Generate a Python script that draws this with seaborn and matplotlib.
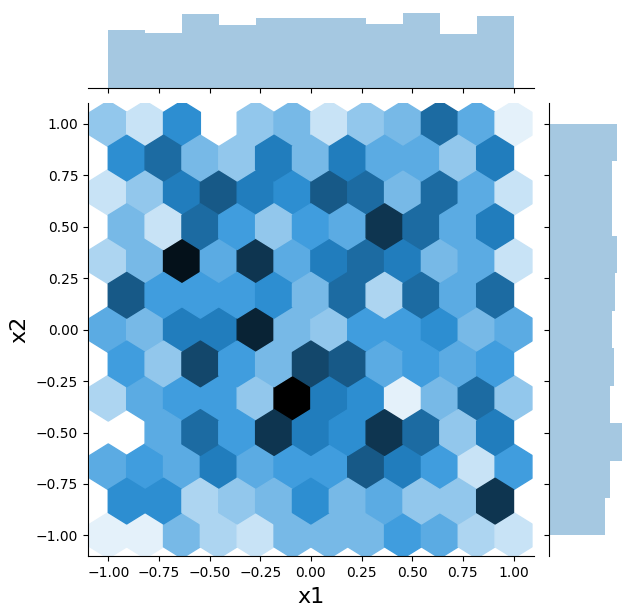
import numpy as np
import matplotlib
matplotlib.use("Agg")
import matplotlib.pyplot as plt
import seaborn as sns
from seaborn.utils import set_hls_values

# Hexagon counts, top row to bottom row. Long rows have 12 cells, offset rows 11.
row_01 = [4, 2, 8, 0, 4, 5, 2, 4, 5, 10, 6, 1]
row_02 = [8, 10, 5, 4, 9, 5, 9, 6, 6, 4, 9]
row_03 = [2, 4, 9, 11, 9, 8, 11, 10, 5, 10, 6, 2]
row_04 = [5, 2, 10, 7, 4, 7, 6, 13, 10, 6, 9]
row_05 = [3, 5, 15, 6, 13, 6, 9, 10, 9, 5, 6, 2]
row_06 = [11, 7, 7, 7, 8, 5, 10, 3, 10, 6, 10]
row_07 = [6, 5, 9, 9, 14, 5, 4, 7, 7, 8, 5, 6]
row_08 = [7, 4, 12, 7, 5, 12, 11, 6, 7, 6, 7]
row_09 = [3, 6, 7, 7, 4, 16, 9, 8, 1, 5, 10, 4]
row_10 = [0, 6, 10, 7, 13, 9, 8, 13, 10, 4, 9]
row_11 = [6, 7, 6, 9, 6, 7, 7, 11, 9, 7, 2, 7]
row_12 = [8, 8, 3, 4, 5, 8, 5, 6, 4, 4, 13]
row_13 = [1, 1, 5, 3, 2, 5, 5, 5, 7, 6, 3, 2]
hex_rows = [row_01, row_02, row_03, row_04, row_05, row_06, row_07,
            row_08, row_09, row_10, row_11, row_12, row_13]

# Marginal histogram counts, 11 bins from -1 to 1
x1_hist = [80, 76, 103, 87, 98, 97, 98, 89, 104, 75, 100]
x2_hist = [80, 86, 104, 87, 92, 90, 94, 97, 89, 89, 97]

n_bins = 11
row_y = np.linspace(1, -1, len(hex_rows))
long_x = np.linspace(-1, 1, n_bins + 1)
short_x = (long_x[:-1] + long_x[1:]) / 2

xs, ys = [], []
for y_val, row in zip(row_y, hex_rows):
    centers = long_x if len(row) == n_bins + 1 else short_x
    xs.append(np.repeat(centers, row))
    ys.append(np.full(int(np.sum(row)), y_val))
xs = np.concatenate(xs)
ys = np.concatenate(ys)

g = sns.JointGrid(height=6, ratio=5, space=0.2)
g.figure.set_size_inches(6.35, 6.15)
g.figure.subplots_adjust(left=88 / 635, right=626 / 635,
                         top=1 - 9.5 / 615, bottom=1 - 556 / 615)

colors = [set_hls_values("C0", l=l) for l in np.linspace(1, 0, 12)]
cmap = sns.blend_palette(colors, as_cmap=True)
g.ax_joint.hexbin(xs, ys, gridsize=n_bins, extent=(-1, 1, -1, 1), cmap=cmap,
                  mincnt=1, vmin=0, vmax=16)

sns.histplot(x=short_x, weights=x1_hist, bins=n_bins, binrange=(-1, 1),
             ax=g.ax_marg_x, color="C0", alpha=0.4, linewidth=0)
bin_y = short_x
sns.histplot(y=bin_y, weights=x2_hist, bins=n_bins, binrange=(-1, 1),
             ax=g.ax_marg_y, color="C0", alpha=0.4, linewidth=0)

g.ax_joint.set_xlim(-1.1, 1.1)
g.ax_joint.set_ylim(-1.1, 1.1)
g.ax_joint.set_xticks(np.arange(-1, 1.01, 0.25))
g.ax_joint.set_yticks(np.arange(-1, 1.01, 0.25))
g.ax_joint.set_xlabel("x1", fontsize=16, labelpad=5.5)
g.ax_joint.set_ylabel("x2", fontsize=16, labelpad=4.8)
g.ax_marg_x.set_ylabel("")
g.ax_marg_x.set_xlabel("")
g.ax_marg_y.set_xlabel("")
g.ax_marg_y.set_ylabel("")
g.ax_marg_x.tick_params(axis="x", labelbottom=False)
g.ax_marg_x.tick_params(axis="y", left=False, labelleft=False)
g.ax_marg_y.tick_params(axis="y", labelleft=False)
g.ax_marg_y.tick_params(axis="x", bottom=False, labelbottom=False)

g.figure.savefig("out.png", dpi=100)
